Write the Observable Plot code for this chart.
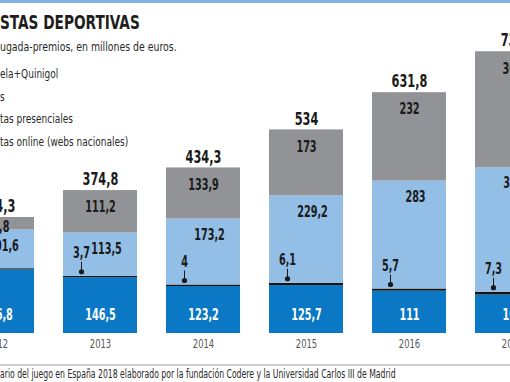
<!DOCTYPE html>
<html>
<head>
<meta charset="utf-8">
<script src="https://cdn.jsdelivr.net/npm/d3@7"></script>
<script src="https://cdn.jsdelivr.net/npm/@observablehq/plot@0.6"></script>
<style>
  html, body { margin: 0; padding: 0; background: #fff; }
  #wrap { position: relative; width: 510px; height: 382px; overflow: hidden; font-family: "DejaVu Sans Condensed", "Roboto", sans-serif; }
  .abs { position: absolute; left: 0; white-space: nowrap; line-height: 1; transform-origin: 0 50%; }
  #topline { top: 0; width: 510px; height: 3px; background: #7fb1e3; }
  #title { top: 12px; font-size: 20px; font-weight: bold; color: #1e1e1e; transform: scaleX(0.76); }
  #subtitle { top: 40px; font-size: 13px; color: #2a2a2a; transform: scaleX(0.8); }
  .leg { font-size: 13px; color: #2a2a2a; transform: scaleX(0.77); }
  #footline { top: 364px; width: 510px; height: 2px; background: #cfcfcf; }
  #source { top: 368px; font-size: 12px; color: #2a2a2a; transform: scaleX(0.715); }
  #chart { position: absolute; left: 0; top: 0; }
</style>
</head>
<body>
<div id="wrap">
  <div id="chart"></div>
  <div class="abs" id="topline"></div>
  <div class="abs" id="title"></div>
  <div class="abs" id="subtitle"></div>
  <div id="legend"></div>
  <div class="abs" id="footline"></div>
  <div class="abs" id="source"></div>
</div>
<script>
// ---- data ----
const years = ["2012", "2013", "2014", "2015", "2016", "2017"];
const series = ["Quiniela+Quinigol", "Hípicas", "Apuestas presenciales", "Apuestas online (webs nacionales)"];
const quiniela = [166.8, 146.5, 123.2, 125.7, 111, 101];
const hipicas = [3.1, 3.7, 4, 6.1, 5.7, 7.3];
const presenciales = [101.6, 113.5, 173.2, 229.2, 283, 326.7];
const online = [32.8, 111.2, 133.9, 173, 232, 304];
const totals = [304.3, 374.8, 434.3, 534, 631.8, 739];
const colors = ["#0a78c4", "#151515", "#93bee6", "#929397"];

const titleText = "STAS DEPORTIVAS";
const subtitleText = "ugada-premios, en millones de euros.";
const legendTexts = ["ela+Quinigol", "s", "tas presenciales", "tas online (webs nacionales)"];
const sourceText = "ario del juego en España 2018 elaborado por la fundación Codere y la Universidad Carlos III de Madrid";

// ---- text ----
document.getElementById("title").textContent = titleText;
document.getElementById("subtitle").textContent = subtitleText;
document.getElementById("source").textContent = sourceText;
const legend = document.getElementById("legend");
legendTexts.forEach((t, i) => {
  const d = document.createElement("div");
  d.className = "abs leg";
  d.style.top = (67 + i * 22.5) + "px";
  d.textContent = t;
  legend.appendChild(d);
});

// ---- table ----
const valuesBySeries = [quiniela, hipicas, presenciales, online];
const rows = [];
years.forEach((y, i) => {
  series.forEach((s, j) => rows.push({year: y, series: s, value: valuesBySeries[j][i]}));
});
const seg = years.map((y, i) => {
  const q = quiniela[i], h = hipicas[i], p = presenciales[i], o = online[i];
  return {
    year: y, q, h, p, o,
    total: totals[i],
    hTop: q + h,
    pTop: q + h + p,
    oTop: q + h + p + o,
    oBot: q + h + p
  };
});
const fmt = v => String(v).replace(".", ",");

const H = 360, mTop = 28, mBot = 27, yMax = 800;
const k = (H - mTop - mBot) / yMax; // px per unit
const font = "DejaVu Sans Condensed, Roboto, sans-serif";

const chart = Plot.plot({
  width: 510,
  height: H,
  marginTop: mTop,
  marginBottom: mBot,
  marginLeft: 0,
  marginRight: 0,
  style: {fontFamily: font, background: "transparent"},
  x: {type: "band", domain: years, range: [-70.6, 580], padding: 0.28, label: null, axis: null},
  y: {domain: [0, yMax], axis: null},
  color: {domain: series, range: colors},
  marks: [
    Plot.barY(rows, {x: "year", y: "value", fill: "series", order: series}),
    Plot.axisX({tickSize: 0, tickPadding: 5, fontSize: 13, fill: "#555", label: null}),
    // totals
    Plot.text(seg, {x: "year", y: "total", text: d => fmt(d.total), dy: -11, fontSize: 17.5, fontWeight: "bold", fill: "#1a1a1a"}),
    // online (grey) labels
    Plot.text(seg, {x: "year", y: d => Math.max(d.oTop - 17 / k, (d.oTop + d.oBot) / 2 - 3 / k), text: d => fmt(d.o), fontSize: 15, fontWeight: "bold", fill: "#1a1a1a"}),
    // presenciales (light blue) labels
    Plot.text(seg, {x: "year", y: d => d.pTop - 16 / k, text: d => fmt(d.p), dx: 6, fontSize: 15, fontWeight: "bold", fill: "#1a1a1a"}),
    // quiniela labels
    Plot.text(seg, {x: "year", y: 0, text: d => fmt(d.q), dy: -18, fontSize: 15, fontWeight: "bold", fill: "#fff"}),
    // hípicas callouts
    Plot.ruleX(seg, {x: "year", y1: d => d.hTop + 5 / k, y2: d => d.hTop + 14 / k, dx: -19, stroke: "#1a1a1a", strokeWidth: 1}),
    Plot.dot(seg, {x: "year", y: "hTop", dy: -4.5, dx: -19, r: 2.6, fill: "#1a1a1a", stroke: "none"}),
    Plot.text(seg, {x: "year", y: "hTop", text: d => fmt(d.h), dy: -23, dx: -19, fontSize: 15, fontWeight: "bold", fill: "#1a1a1a"})
  ]
});
// condense the SVG texts horizontally around their anchor point
const SX = 0.72;
chart.querySelectorAll("text").forEach(t => {
  const tr = t.getAttribute("transform");
  if (tr) t.setAttribute("transform", `${tr} scale(${SX},1)`);
});
document.getElementById("chart").appendChild(chart);
</script>
</body>
</html>
